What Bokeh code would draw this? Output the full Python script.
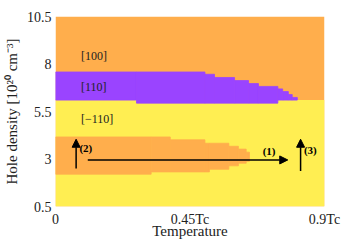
from bokeh.plotting import figure
from bokeh.models import FixedTicker, CustomJSTickFormatter, Arrow, NormalHead, Range1d
from bokeh.core.properties import value
from bokeh.embed import file_html
from bokeh.resources import INLINE

# ---- data (temperature in units of Tc, hole density in 1e20 cm^-3) ----
x_ticks = [0, 0.45, 0.9]
x_tick_labels = ["0", "0.45Tc", "0.9Tc"]
y_ticks = [0.5, 3, 5.5, 8, 10.5]

# [100] orange background region and [-110] yellow region
orange_region = dict(left=[0.0], right=[0.9], bottom=[0.5], top=[10.5])
yellow_region = dict(left=[0.0], right=[0.9], bottom=[0.5], top=[6.1])

# [110] purple band (stepped)
purple_left = [0.0, 0.271, 0.50, 0.532, 0.599, 0.646, 0.679, 0.744, 0.760, 0.779, 0.792]
purple_right = [0.271, 0.50, 0.532, 0.599, 0.646, 0.679, 0.744, 0.760, 0.779, 0.792, 0.809]
purple_bottom = [6.1, 5.94, 5.94, 5.94, 5.94, 5.94, 5.94, 6.1, 6.1, 6.1, 6.1]
purple_top = [7.58, 7.58, 7.46, 7.29, 7.13, 6.97, 6.82, 6.69, 6.55, 6.39, 6.24]

# lower orange ([100]) band (stepped)
band_left = [0.0, 0.320, 0.384, 0.50, 0.515, 0.58, 0.612, 0.638]
band_right = [0.320, 0.384, 0.50, 0.515, 0.58, 0.612, 0.638, 0.649]
band_bottom = [2.2, 2.32, 2.32, 2.32, 2.46, 2.64, 2.78, 2.88]
band_top = [4.16, 4.16, 4.01, 3.83, 3.83, 3.67, 3.52, 3.36]

region_labels = ["[100]", "[110]", "[\u2212110]"]
region_label_x = [0.085, 0.085, 0.085]
region_label_y = [8.41, 6.77, 5.09]

arrow_x0 = [0.108, 0.069, 0.820]
arrow_y0 = [2.95, 2.5, 2.37]
arrow_x1 = [0.777, 0.069, 0.820]
arrow_y1 = [2.95, 4.04, 4.04]
arrow_labels = ["(1)", "(2)", "(3)"]
arrow_label_x = [0.693, 0.08, 0.831]
arrow_label_y = [3.4, 3.6, 3.45]

ORANGE = "#ffae4c"
PURPLE = "#9a44ff"
YELLOW = "#ffee52"
SERIF = "Liberation Serif"

p = figure(frame_width=269, frame_height=190, output_backend="svg", toolbar_location=None,
           x_range=Range1d(0, 0.9), y_range=Range1d(0.5, 10.5),
           min_border_left=48, min_border_top=16, min_border_right=26, min_border_bottom=26)
p.outline_line_color = None
p.xgrid.visible = False
p.ygrid.visible = False

p.quad(source=orange_region, left="left", right="right", bottom="bottom", top="top",
       fill_color=ORANGE, line_color=None)
p.quad(source=yellow_region, left="left", right="right", bottom="bottom", top="top",
       fill_color=YELLOW, line_color=None)
p.quad(left=purple_left, right=purple_right, bottom=purple_bottom, top=purple_top,
       fill_color=PURPLE, line_color=PURPLE, line_width=0.8)
p.quad(left=band_left, right=band_right, bottom=band_bottom, top=band_top,
       fill_color=ORANGE, line_color=ORANGE, line_width=0.8)

p.text(x=region_label_x, y=region_label_y, text=region_labels, text_font=value(SERIF),
       text_font_size="12px", text_color="#222222", text_align="left", text_baseline="middle")

for xs, ys, xe, ye in zip(arrow_x0, arrow_y0, arrow_x1, arrow_y1):
    p.add_layout(Arrow(x_start=xs, y_start=ys, x_end=xe, y_end=ye, line_width=1.5, line_color="black",
                       end=NormalHead(size=8, fill_color="black", line_color="black")))

p.text(x=arrow_label_x, y=arrow_label_y, text=arrow_labels, text_font=value(SERIF),
       text_font_size="11px", text_font_style="bold", text_color="black",
       text_align="left", text_baseline="middle")

p.xaxis.ticker = FixedTicker(ticks=x_ticks)
p.xaxis.formatter = CustomJSTickFormatter(args=dict(t=x_ticks, l=x_tick_labels), code="""
const i = t.findIndex(v => Math.abs(v - tick) < 1e-9);
return i >= 0 ? l[i] : tick.toString();
""")
p.yaxis.ticker = FixedTicker(ticks=y_ticks)
p.yaxis.formatter = CustomJSTickFormatter(code="return tick.toString();")

for ax in (p.xaxis[0], p.yaxis[0]):
    ax.axis_line_color = None
    ax.major_tick_line_color = None
    ax.minor_tick_line_color = None
    ax.major_tick_out = 0
    ax.major_tick_in = 0
    ax.minor_tick_out = 0
    ax.minor_tick_in = 0
    ax.major_label_text_font = SERIF
    ax.major_label_text_color = "#222222"
    ax.axis_label_text_font = SERIF
    ax.axis_label_text_font_size = "15px"
    ax.axis_label_text_font_style = "normal"
    ax.axis_label_text_color = "#222222"

p.xaxis.major_label_text_font_size = "14px"
p.yaxis.major_label_text_font_size = "14px"
p.xaxis.axis_label = "Temperature"
p.yaxis.axis_label = "Hole density [10\u00b2\u2070 cm\u207b\u00b3]"
p.xaxis.major_label_standoff = 5
p.xaxis.axis_label_standoff = -7
p.yaxis.major_label_standoff = 4
p.yaxis.axis_label_standoff = 4

open("out.html", "w").write(file_html(p, INLINE))
